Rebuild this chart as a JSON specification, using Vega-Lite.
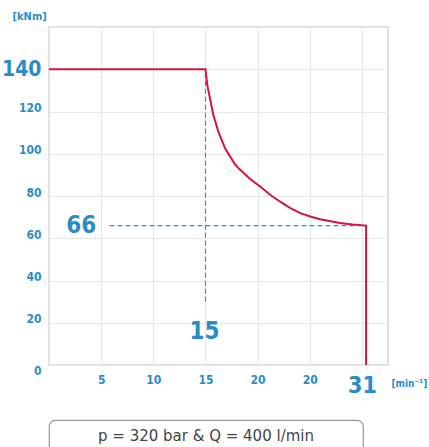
{
  "$schema": "https://vega.github.io/schema/vega-lite/v6.json",
  "padding": {"top": 9, "left": 0, "right": 0, "bottom": 0},
  "background": "white",
  "spacing": 21,
  "datasets": {
    "curve": [
      {"i": 0, "rpm": 0, "torque": 140},
      {"i": 1, "rpm": 15, "torque": 140},
      {"i": 2, "rpm": 15.17, "torque": 132.6},
      {"i": 3, "rpm": 15.43, "torque": 126.3},
      {"i": 4, "rpm": 15.75, "torque": 118.4},
      {"i": 5, "rpm": 16.23, "torque": 110.5},
      {"i": 6, "rpm": 16.88, "torque": 102.6},
      {"i": 7, "rpm": 17.84, "torque": 94.9},
      {"i": 8, "rpm": 18.3, "torque": 92.5},
      {"i": 9, "rpm": 19.28, "torque": 88},
      {"i": 10, "rpm": 20.24, "torque": 84.5},
      {"i": 11, "rpm": 21.2, "torque": 80.6},
      {"i": 12, "rpm": 22.16, "torque": 77.3},
      {"i": 13, "rpm": 23.1, "torque": 74.4},
      {"i": 14, "rpm": 24.09, "torque": 71.9},
      {"i": 15, "rpm": 25.05, "torque": 70.3},
      {"i": 16, "rpm": 26.0, "torque": 69.0},
      {"i": 17, "rpm": 27.0, "torque": 68.0},
      {"i": 18, "rpm": 27.9, "torque": 67.2},
      {"i": 19, "rpm": 29.1, "torque": 66.5},
      {"i": 20, "rpm": 30.4, "torque": 66},
      {"i": 21, "rpm": 30.4, "torque": 0}
    ],
    "guides": [
      {"x1": 5.8, "x2": 30.4, "y1": 66, "y2": 66},
      {"x1": 15, "x2": 15, "y1": 30, "y2": 140}
    ],
    "marks": [
      {"x": 3.1, "y": 66, "label": "66"},
      {"x": 14.9, "y": 15.8, "label": "15"}
    ],
    "note": [{"label": "p = 320 bar & Q = 400 l/min"}]
  },
  "config": {
    "font": "DejaVu Sans Condensed"
  },
  "vconcat": [
    {
      "width": 339,
      "height": 338,
      "view": {"stroke": "#dedede", "strokeWidth": 2},
      "layer": [
        {
          "data": {"name": "guides"},
          "mark": {"type": "rule", "color": "#2f8fd5", "strokeWidth": 1.2, "strokeDash": [5, 3]},
          "encoding": {
            "x": {"field": "x1", "type": "quantitative",
              "scale": {"domain": [0, 32.5], "nice": false},
              "axis": {
                "values": [0, 2.5, 5, 7.5, 10, 12.5, 15, 17.5, 20, 22.5, 25, 27.5, 30, 32.5],
                "labelExpr": "datum.value == 25 ? '20' : datum.value == 30 ? '31' : (datum.value % 5 == 0 && datum.value > 0) ? datum.label : ''",
                "grid": true, "gridColor": "#e9e9e9", "gridWidth": 1.2,
                "ticks": false, "domain": false,
                "labelFont": "DejaVu Sans Condensed", "labelFontWeight": "bold",
                "labelColor": "#2b8cc6",
                "labelFontSize": {"condition": {"test": "datum.value == 30", "value": 23}, "value": 12},
                "labelBaseline": "top", "labelPadding": 9, "labelFlush": false,
                "title": "[min⁻¹]", "titleFont": "DejaVu Sans Condensed", "titleFontWeight": "bold",
                "titleFontSize": 10, "titleColor": "#2b8cc6", "titleAngle": 0,
                "titleAlign": "left", "titleBaseline": "middle", "titleX": 342, "titleY": 18
              }
            },
            "x2": {"field": "x2"},
            "y": {"field": "y1", "type": "quantitative",
              "scale": {"domain": [0, 160], "nice": false},
              "axis": {
                "values": [0, 10, 20, 30, 40, 50, 60, 70, 80, 90, 100, 110, 120, 130, 140, 150, 160],
                "labelExpr": "(datum.value % 20 == 0 && datum.value < 160) ? datum.label : ''",
                "grid": true, "gridColor": "#e9e9e9", "gridWidth": 1.2,
                "ticks": false, "domain": false,
                "labelFont": "DejaVu Sans Condensed", "labelFontWeight": "bold",
                "labelColor": "#2b8cc6",
                "labelFontSize": {"condition": {"test": "datum.value == 140", "value": 21}, "value": 12},
                "labelBaseline": {"condition": [
                  {"test": "datum.value == 140", "value": "middle"},
                  {"test": "datum.value == 0", "value": "top"}
                ], "value": "alphabetic"},
                "labelPadding": 8, "labelFlush": false,
                "title": "[kNm]", "titleFont": "DejaVu Sans Condensed", "titleFontWeight": "bold",
                "titleFontSize": 11, "titleColor": "#2b8cc6", "titleAngle": 0,
                "titleAlign": "left", "titleBaseline": "middle", "titleX": -37, "titleY": -11
              }
            },
            "y2": {"field": "y2"}
          }
        },
        {
          "data": {"name": "curve"},
          "mark": {"type": "line", "color": "#d4143f", "strokeWidth": 2},
          "encoding": {
            "x": {"field": "rpm", "type": "quantitative"},
            "y": {"field": "torque", "type": "quantitative"},
            "order": {"field": "i", "type": "quantitative"}
          }
        },
        {
          "data": {"name": "marks"},
          "mark": {"type": "text", "font": "DejaVu Sans Condensed", "fontWeight": "bold",
            "fontSize": 24, "color": "#2b8cc6", "baseline": "middle", "align": "center"},
          "encoding": {
            "x": {"field": "x", "type": "quantitative"},
            "y": {"field": "y", "type": "quantitative"},
            "text": {"field": "label"}
          }
        }
      ]
    },
    {
      "width": 314,
      "height": 32,
      "view": {"stroke": "#999999", "strokeWidth": 1.2, "cornerRadius": 6},
      "data": {"name": "note"},
      "mark": {"type": "text", "font": "DejaVu Sans", "fontSize": 15, "color": "#444444", "baseline": "middle"},
      "encoding": {
        "text": {"field": "label"}
      }
    }
  ]
}
